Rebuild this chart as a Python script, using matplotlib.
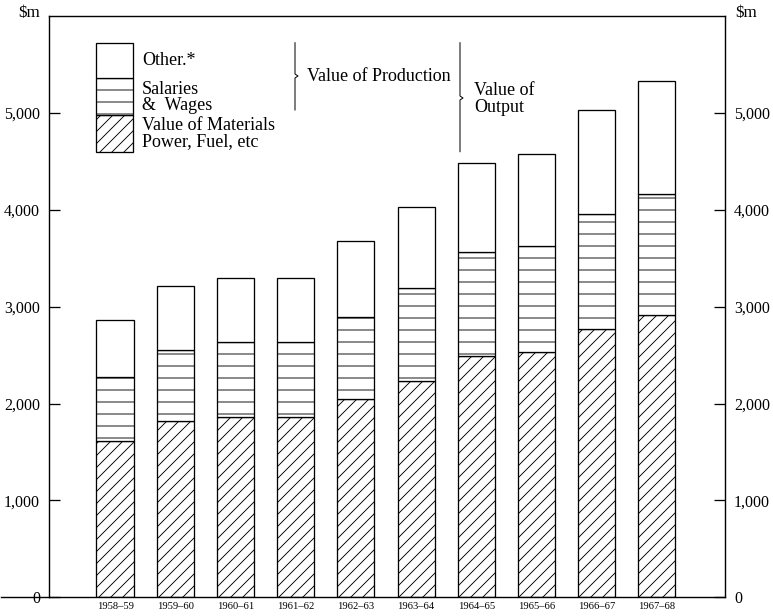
import matplotlib.pyplot as plt
from matplotlib.patches import Rectangle
import numpy as np

# values ($m)
years = ['1958–59', '1959–60', '1960–61', '1961–62', '1962–63',
         '1963–64', '1964–65', '1965–66', '1966–67', '1967–68']
materials = [1610, 1815, 1865, 1865, 2050, 2235, 2490, 2530, 2765, 2915]
production_top = [2270, 2550, 2640, 2640, 2890, 3195, 3565, 3625, 3960, 4165]
output_top = [2860, 3210, 3300, 3300, 3675, 4030, 4480, 4580, 5025, 5325]
y_ticks = [0, 1000, 2000, 3000, 4000, 5000]
y_tick_labels = ['0', '1,000', '2,000', '3,000', '4,000', '5,000']

salaries = np.array(production_top) - np.array(materials)
other = np.array(output_top) - np.array(production_top)

plt.rcParams['font.family'] = 'Liberation Serif'
plt.rcParams['hatch.linewidth'] = 0.9

DPI = 72
fig = plt.figure(figsize=(773 / DPI, 616 / DPI), dpi=DPI)
ax = fig.add_axes([49 / 773, 18.7 / 616, 676 / 773, 581.3 / 616])

x = np.arange(len(years))
w = 0.615
kw = dict(width=w, color='white', edgecolor='black', linewidth=1.3)
ax.bar(x, materials, hatch='//', **kw)
ax.bar(x, salaries, bottom=materials, hatch='-', **kw)
ax.bar(x, other, bottom=production_top, **kw)

ax.set_xlim(-1.096, 10.13)
ax.set_ylim(0, 6000)
ax.set_xticks(x)
ax.set_xticklabels(years, fontsize=10.5)
ax.tick_params(axis='x', length=0, pad=5)
ax.set_yticks(y_ticks)
ax.set_yticklabels(y_tick_labels, fontsize=16)
ax.tick_params(axis='y', direction='in', length=11, width=1.3,
               left=True, right=True, labelleft=True, labelright=True, pad=9)
for s in ax.spines.values():
    s.set_linewidth(1.4)

# bottom rule runs out past the left axis
ax.plot([-1.9, -1.096], [0, 0], color='black', lw=1.4, clip_on=False)

fig.text(18 / 773, 1 - 13 / 616, '$m', fontsize=17, va='center', ha='left')
fig.text(735 / 773, 1 - 13 / 616, '$m', fontsize=17, va='center', ha='left')

# legend box drawn as a small stacked column
T = ax.transAxes
def fy(py):
    return (597.3 - py) / 581.3
def fx(px):
    return (px - 49) / 676
lx, lw_ = fx(96), fx(133) - fx(96)
ax.add_patch(Rectangle((lx, fy(152.3)), lw_, fy(115) - fy(152.3), transform=T,
                       facecolor='white', edgecolor='black', lw=1.3, hatch='//'))
ax.add_patch(Rectangle((lx, fy(115)), lw_, fy(78.3) - fy(115), transform=T,
                       facecolor='white', edgecolor='black', lw=1.3, hatch='-'))
ax.add_patch(Rectangle((lx, fy(78.3)), lw_, fy(42.7) - fy(78.3), transform=T,
                       facecolor='white', edgecolor='black', lw=1.3))

tx = fx(142)
for label, py in [('Other.*', 60.7), ('Salaries', 89.3), ('&  Wages', 105),
                  ('Value of Materials', 125.7), ('Power, Fuel, etc', 141.7)]:
    ax.text(tx, fy(py), label, transform=T, fontsize=18, va='center', ha='left')

# braces
def brace(px, top, bottom, mid):
    xs = [fx(px), fx(px), fx(px + 3), fx(px), fx(px)]
    ys = [fy(top), fy(mid - 2), fy(mid), fy(mid + 2), fy(bottom)]
    ax.plot(xs, ys, transform=T, color='black', lw=1.0)

brace(295, 42.7, 110, 76)
ax.text(fx(307), fy(76.7), 'Value of Production', transform=T, fontsize=18,
        va='center', ha='left')
brace(460, 42.7, 151.7, 98)
ax.text(fx(474), fy(90), 'Value of', transform=T, fontsize=18, va='center', ha='left')
ax.text(fx(474), fy(107), 'Output', transform=T, fontsize=18, va='center', ha='left')

fig.savefig('out.png', dpi=DPI)
